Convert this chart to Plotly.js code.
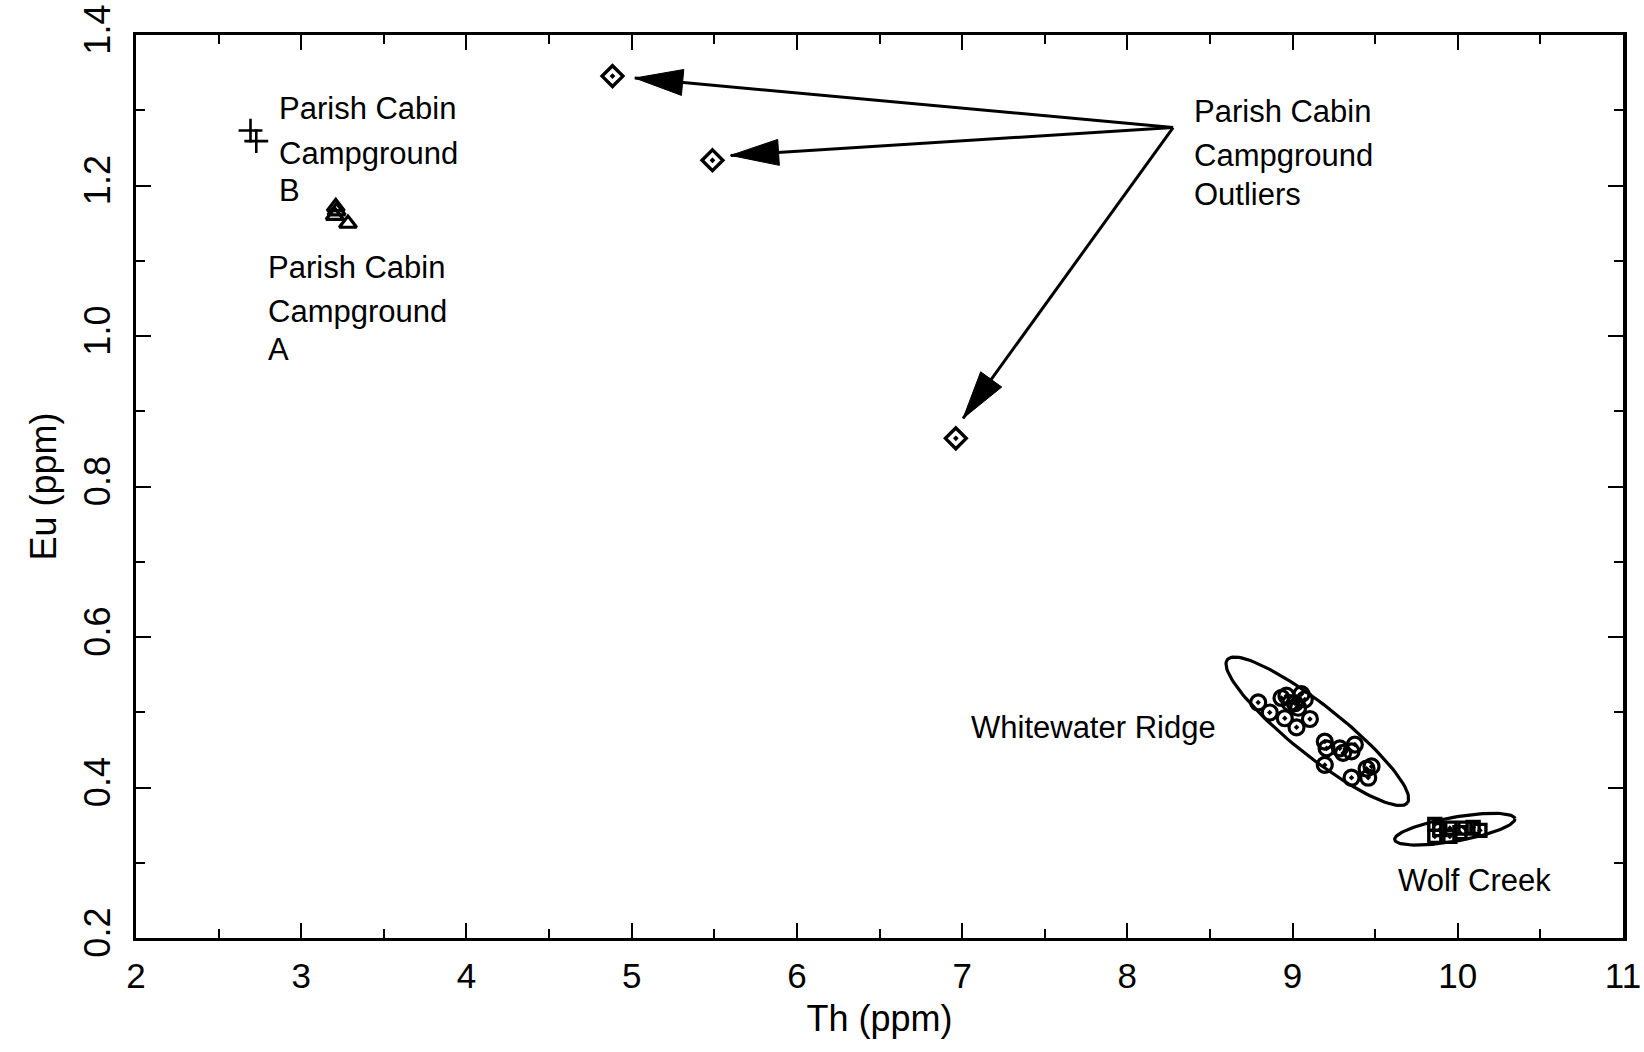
<!DOCTYPE html>
<html>
<head>
<meta charset="utf-8">
<script src="https://cdn.plot.ly/plotly-3.0.1.min.js"></script>
<style>html,body{margin:0;padding:0;background:#fff;}#chart{width:1644px;height:1052px;}</style>
</head>
<body>
<div id="chart"></div>
<script>
// ---- data (Th ppm, Eu ppm) ----
const pcbTh = [2.693, 2.728];
const pcbEu = [1.273, 1.259];

const pcaTh = [3.209, 3.214, 3.203, 3.283];
const pcaEu = [1.1715, 1.166, 1.160, 1.1495];

const outTh = [4.884, 5.489, 6.962];
const outEu = [1.3454, 1.2335, 0.864];

const wwrTh = [8.792, 8.862, 8.953, 9.024, 9.105, 8.933, 8.963, 9.054, 9.074, 9.014, 9.034, 8.984,
               9.195, 9.206, 9.286, 9.306, 9.377, 9.357, 9.195, 9.357, 9.458, 9.478, 9.448];
const wwrEu = [0.513, 0.4997, 0.492, 0.480, 0.491, 0.519, 0.522, 0.524, 0.517, 0.512, 0.506, 0.512,
               0.461, 0.452, 0.452, 0.446, 0.457, 0.448, 0.430, 0.413, 0.413, 0.428, 0.425];

const wcTh = [9.861, 9.861, 9.891, 9.952, 9.952, 10.013, 10.043, 10.093, 10.134];
const wcEu = [0.351, 0.335, 0.344, 0.346, 0.335, 0.340, 0.346, 0.347, 0.343];

const xTickVals = [2, 3, 4, 5, 6, 7, 8, 9, 10, 11];
const yTickVals = [0.2, 0.4, 0.6, 0.8, 1.0, 1.2, 1.4];

// outlier arrows: common origin and tips
const arrowOriginTh = 8.277, arrowOriginEu = 1.277;
const arrowTipTh = [5.019, 5.599, 7.006];
const arrowTipEu = [1.3428, 1.240, 0.8906];

// labels
const labelText = ['Parish Cabin', 'Campground', 'B',
                   'Parish Cabin', 'Campground', 'A',
                   'Parish Cabin', 'Campground', 'Outliers',
                   'Whitewater Ridge', 'Wolf Creek'];
const labelTh = [2.856, 2.856, 2.856, 2.786, 2.786, 2.786, 8.39, 8.39, 8.39, 7.04, 9.625];
const labelEu = [1.3026, 1.2428, 1.1937, 1.0909, 1.0325, 0.9823, 1.2984, 1.2399, 1.1884, 0.480, 0.2767];

// ---- layout geometry ----
const W = 1644, H = 1052;
const M = {l: 136, r: 21, t: 35, b: 114};
const xRange = [2, 11], yRange = [0.2, 1.4];
const kx = (W - M.l - M.r) / (xRange[1] - xRange[0]);
const ky = (H - M.t - M.b) / (yRange[1] - yRange[0]);

// group ellipses (center in data units, semi-axes in px, angle in deg, screen-down positive)
const ellipses = [
  {cx: 9.150, cy: 0.4747, a: 115, b: 25, ang: 38.5},
  {cx: 9.982, cy: 0.3446, a: 61, b: 12, ang: -10}
];

const traces = [];
const black = '#000';

ellipses.forEach(e => {
  const xs = [], ys = [];
  const t = e.ang * Math.PI / 180;
  for (let i = 0; i <= 120; i++) {
    const th = 2 * Math.PI * i / 120;
    const px = e.a * Math.cos(th) * Math.cos(t) - e.b * Math.sin(th) * Math.sin(t);
    const py = e.a * Math.cos(th) * Math.sin(t) + e.b * Math.sin(th) * Math.cos(t);
    xs.push(e.cx + px / kx);
    ys.push(e.cy - py / ky);
  }
  traces.push({x: xs, y: ys, mode: 'lines', line: {color: black, width: 3.2}, hoverinfo: 'skip', showlegend: false});
});

// arrows
const headLen = 48, headHalf = 13;
arrowTipTh.forEach((tx, i) => {
  const ty = arrowTipEu[i];
  traces.push({x: [arrowOriginTh, tx], y: [arrowOriginEu, ty], mode: 'lines',
               line: {color: black, width: 3}, hoverinfo: 'skip', showlegend: false});
  const dx = (arrowOriginTh - tx) * kx, dy = -(arrowOriginEu - ty) * ky;
  const L = Math.hypot(dx, dy);
  const ux = dx / L, uy = dy / L;
  const bx = ux * headLen, by = uy * headLen;
  const pxs = [0, bx - uy * headHalf, bx + uy * headHalf, 0];
  const pys = [0, by + ux * headHalf, by - ux * headHalf, 0];
  traces.push({x: pxs.map(p => tx + p / kx), y: pys.map(p => ty - p / ky), mode: 'lines',
               fill: 'toself', fillcolor: black, line: {color: black, width: 1},
               hoverinfo: 'skip', showlegend: false});
});

traces.push({x: pcbTh, y: pcbEu, mode: 'markers', name: 'Parish Cabin Campground B',
  marker: {symbol: 'cross-thin-open', size: 17, color: black, line: {color: black, width: 2.6}}});
traces.push({x: pcaTh, y: pcaEu, mode: 'markers', name: 'Parish Cabin Campground A',
  marker: {symbol: 'triangle-up-open', size: 15, color: black, line: {color: black, width: 3.2}}});
traces.push({x: outTh, y: outEu, mode: 'markers', name: 'Outliers',
  marker: {symbol: 'diamond-open-dot', size: 16, color: black, line: {color: black, width: 3.4}}});
traces.push({x: wwrTh, y: wwrEu, mode: 'markers', name: 'Whitewater Ridge',
  marker: {symbol: 'circle-open-dot', size: 15, color: black, line: {color: black, width: 3.2}}});
traces.push({x: wcTh, y: wcEu, mode: 'markers', name: 'Wolf Creek',
  marker: {symbol: 'square-open-dot', size: 12, color: black, line: {color: black, width: 3.4}}});

const txtFont = {family: 'Liberation Sans, Arial, sans-serif', size: 31, color: black};
const annotations = labelText.map((t, i) => ({
  x: labelTh[i], y: labelEu[i], xref: 'x', yref: 'y', text: t, showarrow: false,
  xanchor: 'left', yanchor: 'middle', font: txtFont
}));

const axFam = 'Liberation Sans Narrow, Liberation Sans, Arial, sans-serif';

const layout = {
  width: W, height: H,
  margin: M,
  paper_bgcolor: '#fff', plot_bgcolor: '#fff',
  showlegend: false,
  xaxis: {
    range: xRange, tickvals: xTickVals, ticktext: xTickVals.map(String),
    ticks: 'inside', ticklen: 15, tickwidth: 2, tickcolor: black,
    minor: {dtick: 0.5, ticks: 'inside', ticklen: 9, tickwidth: 2, tickcolor: black},
    showline: true, linewidth: 3, linecolor: black, mirror: 'allticks',
    showgrid: false, zeroline: false,
    tickfont: {family: axFam, size: 35, color: black}, ticklabelstandoff: 5,
    title: {text: 'Th (ppm)', font: {family: axFam, size: 36, color: black}, standoff: 12}
  },
  yaxis: {
    range: yRange, tickvals: yTickVals, ticktext: yTickVals.map(v => v.toFixed(1)),
    ticks: 'inside', ticklen: 15, tickwidth: 2, tickcolor: black,
    minor: {dtick: 0.1, ticks: 'inside', ticklen: 9, tickwidth: 2, tickcolor: black},
    showline: true, linewidth: 3.5, linecolor: black, mirror: 'allticks',
    showgrid: false, zeroline: false,
    tickangle: -90, tickfont: {family: axFam, size: 36, color: black}, ticklabelstandoff: 8,
    title: {text: 'Eu (ppm)', font: {family: axFam, size: 36, color: black}, standoff: 10}
  },
  annotations: annotations
};

Plotly.newPlot('chart', traces, layout, {displayModeBar: false, staticPlot: true});
</script>
</body>
</html>
